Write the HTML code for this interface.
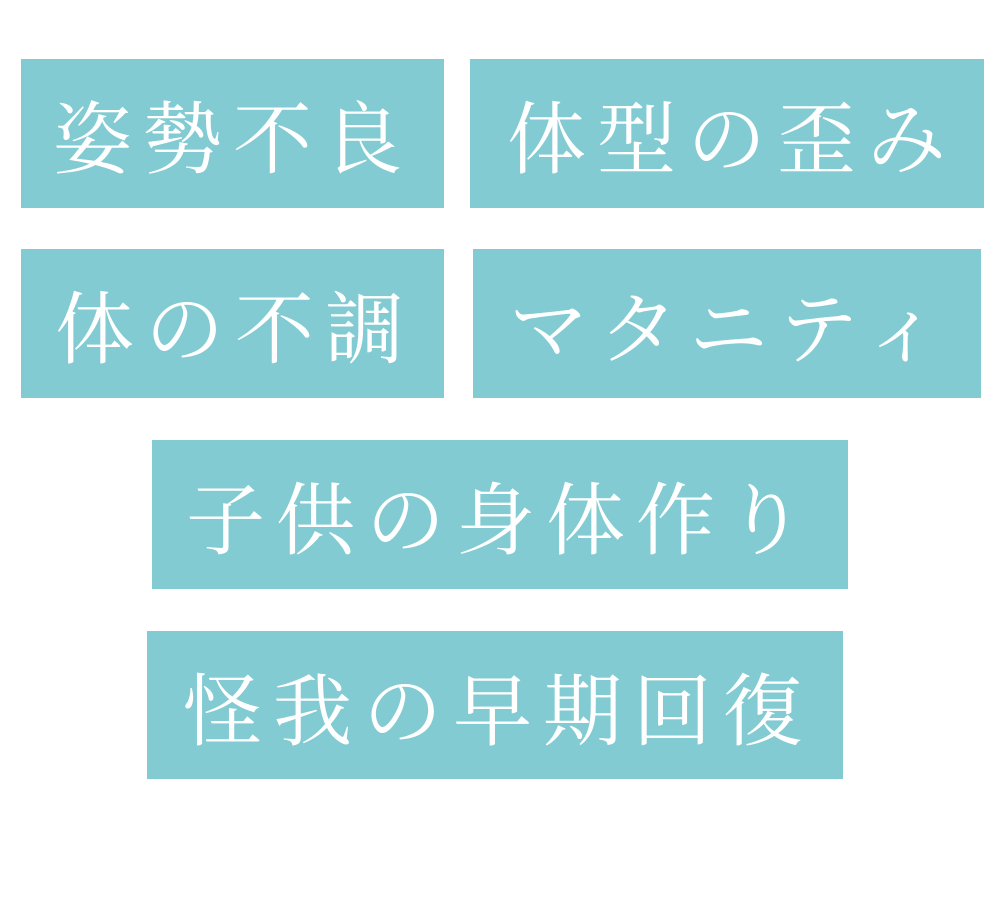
<!DOCTYPE html>
<html><head><meta charset="utf-8"><style>
html,body{margin:0;padding:0;background:#fff;}
body{width:1000px;height:900px;position:relative;overflow:hidden;}
.b{position:absolute;background:#82cbd2;}
.t{position:absolute;color:#fff;font-family:"Liberation Serif","Noto Serif CJK SC","Noto Serif CJK JP",serif;font-size:79px;letter-spacing:11px;line-height:1;white-space:nowrap;}
</style></head><body>
<div class="b" style="left:21px;top:59px;width:423px;height:149px"></div>
<div class="t" style="left:53px;top:102px">姿勢不良</div>
<div class="b" style="left:470px;top:59px;width:514px;height:149px"></div>
<div class="t" style="left:507px;top:102px">体型の歪み</div>
<div class="b" style="left:21px;top:249px;width:423px;height:149px"></div>
<div class="t" style="left:55px;top:292px">体の不調</div>
<div class="b" style="left:473px;top:249px;width:508px;height:149px"></div>
<div class="t" style="left:509px;top:292px">マタニティ</div>
<div class="b" style="left:152px;top:440px;width:696px;height:149px"></div>
<div class="t" style="left:186px;top:483px">子供の身体作り</div>
<div class="b" style="left:147px;top:631px;width:696px;height:148px"></div>
<div class="t" style="left:183px;top:674px">怪我の早期回復</div>
</body></html>
